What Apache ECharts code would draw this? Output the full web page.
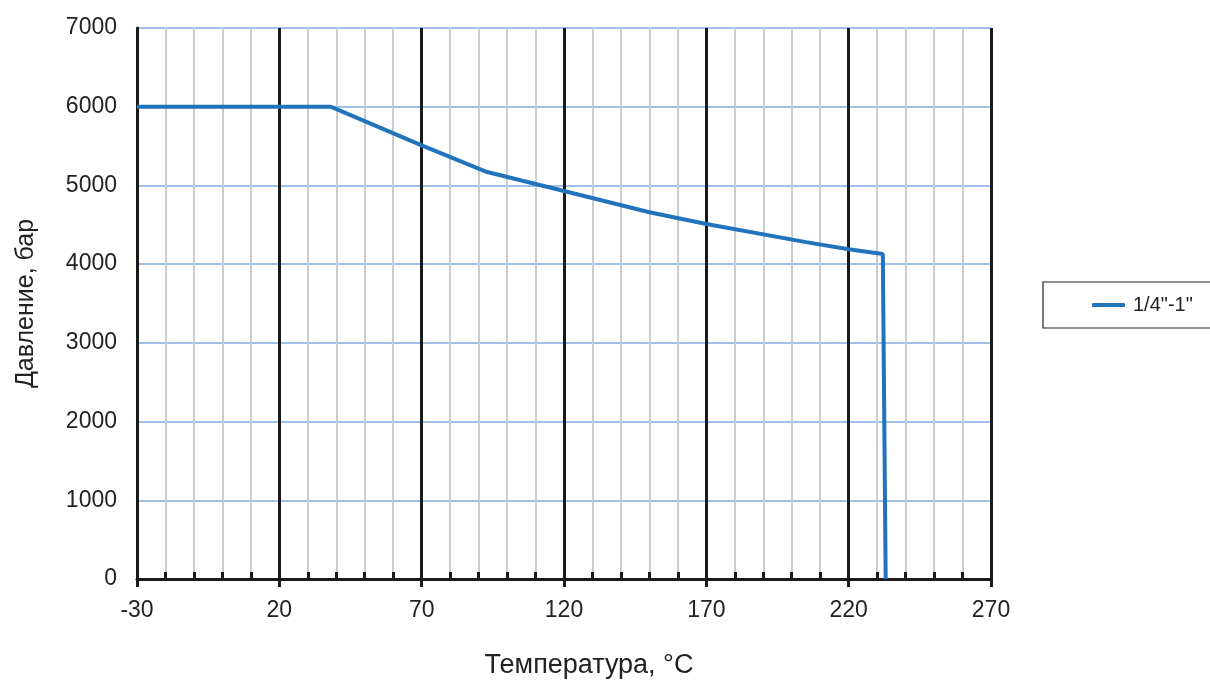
<!DOCTYPE html>
<html><head><meta charset="utf-8">
<script src="https://cdn.jsdelivr.net/npm/echarts@6/dist/echarts.min.js"></script>
<style>html,body{margin:0;padding:0;background:#fff}#c{width:1210px;height:680px}</style>
</head><body><div id="c"></div>
<script>
const temps = [-30, 38, 70, 93, 120, 150, 170, 205, 220, 232, 233];
const pressures = [6000, 6000, 5510, 5170, 4930, 4660, 4510, 4280, 4190, 4130, 0];
const seriesName = '1/4"-1"';
const xTitle = 'Температура, °C';
const yTitle = 'Давление, бар';

const font = 'Liberation Sans, Arial, sans-serif';
const chart = echarts.init(document.getElementById('c'));
chart.setOption({
  animation: false,
  grid: {left: 137, right: 219, top: 28, bottom: 101, containLabel: false, outerBoundsMode: 'none'},
  legend: {
    data: [{name: seriesName, icon: 'roundRect'}],
    left: 1043, top: 282, orient: 'vertical',
    borderColor: '#222', borderWidth: 1.2,
    padding: [13, 40, 13, 49],
    itemWidth: 33, itemHeight: 4, itemGap: 0,
    textStyle: {fontFamily: font, fontSize: 20, color: '#222', padding: [0, 0, 0, 3]}
  },
  xAxis: [{
    type: 'value', min: -30, max: 270, interval: 50,
    name: xTitle, nameLocation: 'middle', nameGap: 73,
    nameTextStyle: {fontFamily: font, fontSize: 27, color: '#222', padding: [0, 0, 0, 50]},
    axisLine: {show: true, onZero: false, lineStyle: {color: '#1a1a1a', width: 3}},
    axisTick: {show: true, inside: false, length: 8, lineStyle: {color: '#1a1a1a', width: 3}},
    axisLabel: {fontFamily: font, fontSize: 23, color: '#222', margin: 20},
    splitLine: {show: true, lineStyle: {color: '#1a1a1a', width: 3}},
    z: 5
  }, {
    type: 'value', min: -30, max: 270, interval: 10, position: 'bottom',
    axisLine: {show: false, onZero: false}, axisLabel: {show: false},
    axisTick: {show: true, inside: true, length: 7, lineStyle: {color: '#1a1a1a', width: 3}},
    splitLine: {show: true, lineStyle: {color: '#c8ccd3', width: 2}}
  }],
  yAxis: {
    type: 'value', min: 0, max: 7000, interval: 1000,
    name: yTitle, nameLocation: 'middle', nameGap: 98, nameRotate: 90,
    nameTextStyle: {fontFamily: font, fontSize: 25, color: '#222'},
    axisLine: {show: true, onZero: false, lineStyle: {color: '#1a1a1a', width: 3}},
    axisTick: {show: false},
    axisLabel: {fontFamily: font, fontSize: 23, color: '#222', margin: 20, formatter: v => String(v), padding: [6, 0, 0, 0]},
    splitLine: {show: true, lineStyle: {color: '#9fc1e7', width: 2}}
  },
  series: [{
    name: seriesName, type: 'line', xAxisIndex: 0,
    data: temps.map((t, i) => [t, pressures[i]]),
    showSymbol: false, symbol: 'none',
    lineStyle: {color: '#2173bb', width: 4},
    itemStyle: {color: '#2173bb'},
    z: 10
  }]
});
</script></body></html>
